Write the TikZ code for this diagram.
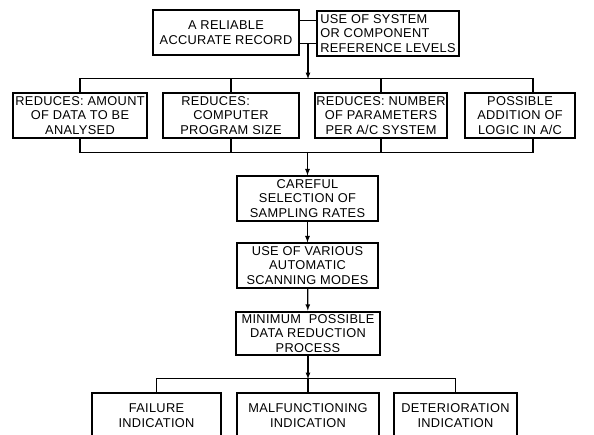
\documentclass[tikz,border=0pt]{standalone}
\usepackage{fontspec}
\newfontfamily\chartfont{Liberation Sans}[LetterSpace=2.5]
\usetikzlibrary{arrows, positioning, calc}

\begin{document}
\begin{tikzpicture}[x=1pt, y=-1pt, line width=1.2pt,
  box/.style={draw, align=center, inner sep=0pt, minimum height=45pt,
    font=\chartfont\fontsize{12.8}{14.5}\selectfont},
  mainbox/.style={box, minimum height=43pt, line width=2.6pt},
  link/.style={-latex}]
\clip (0,0) rectangle (594,435);
% record and reference levels
\node[box, minimum width=146pt] (record) at (226,32.5) {A RELIABLE\\ACCURATE RECORD};
\node[box, minimum width=142pt, align=left] (levels) at (388,33.5) {USE OF SYSTEM\\OR COMPONENT\\REFERENCE LEVELS};
\coordinate (upper) at ($(record.north east)!0.24!(record.south east)$);
\coordinate (lower) at ($(record.north east)!0.73!(record.south east)$);
\draw (upper) -- (upper -| levels.west);
\draw (lower) -- (lower -| levels.west);
\coordinate (split) at ($(lower)!0.5!(lower -| levels.west)$);
% reductions
\node[box, minimum width=134pt] (amount) at (80,115.5) {REDUCES: AMOUNT\\OF DATA TO BE\\ANALYSED};
\node[box, minimum width=136pt] (program) at (231,115.5) {REDUCES:\hspace*{2.4em}\\COMPUTER\\PROGRAM SIZE};
\node[box, minimum width=132pt] (params) at (381,115.5) {REDUCES: NUMBER\\OF PARAMETERS\\PER A/C SYSTEM};
\node[box, minimum width=110pt] (logic) at (520,115.5) {POSSIBLE\\ADDITION OF\\LOGIC IN A/C};
\draw (amount.north) -- ++(0,-14) -| ($(logic.north)+(13,0)$);
\draw (program.north) -- ++(0,-14);
\draw (params.north) -- ++(0,-14);
\draw[link] (split) -- (split |- 0,79);
\draw (amount.south) -- ++(0,14) -| ($(logic.south)+(13,0)$);
\draw (program.south) -- ++(0,14);
\draw (params.south) -- ++(0,14);
% main chain
\node[box, minimum width=141pt] (careful) at (307.5,198.5) {CAREFUL\\SELECTION OF\\SAMPLING RATES};
\node[box, minimum width=141pt] (scanning) at (307.5,265.5) {USE OF VARIOUS\\AUTOMATIC\\SCANNING MODES};
\node[mainbox, minimum width=144pt] (reduction) at (308,333.5) {MINIMUM\ \ POSSIBLE\\DATA REDUCTION\\PROCESS};
\draw[link] (careful.north |- 0,152) -- (careful.north);
\draw[link] (careful) -- (scanning);
\draw[link] (scanning) -- (reduction);
% indications
\node[box, minimum width=129pt] (failure) at (156.5,415.5) {FAILURE\\INDICATION};
\node[box, minimum width=142pt] (malfunction) at (308,415.5) {MALFUNCTIONING\\INDICATION};
\node[box, minimum width=123pt] (deterioration) at (455.5,415.5) {DETERIORATION\\INDICATION};
\draw (failure.north) -- ++(0,-14) -| (deterioration.north);
\draw (malfunction.north) -- ++(0,-14);
\draw[link] (reduction.south) -- (reduction.south |- 0,379);
\end{tikzpicture}
\end{document}
